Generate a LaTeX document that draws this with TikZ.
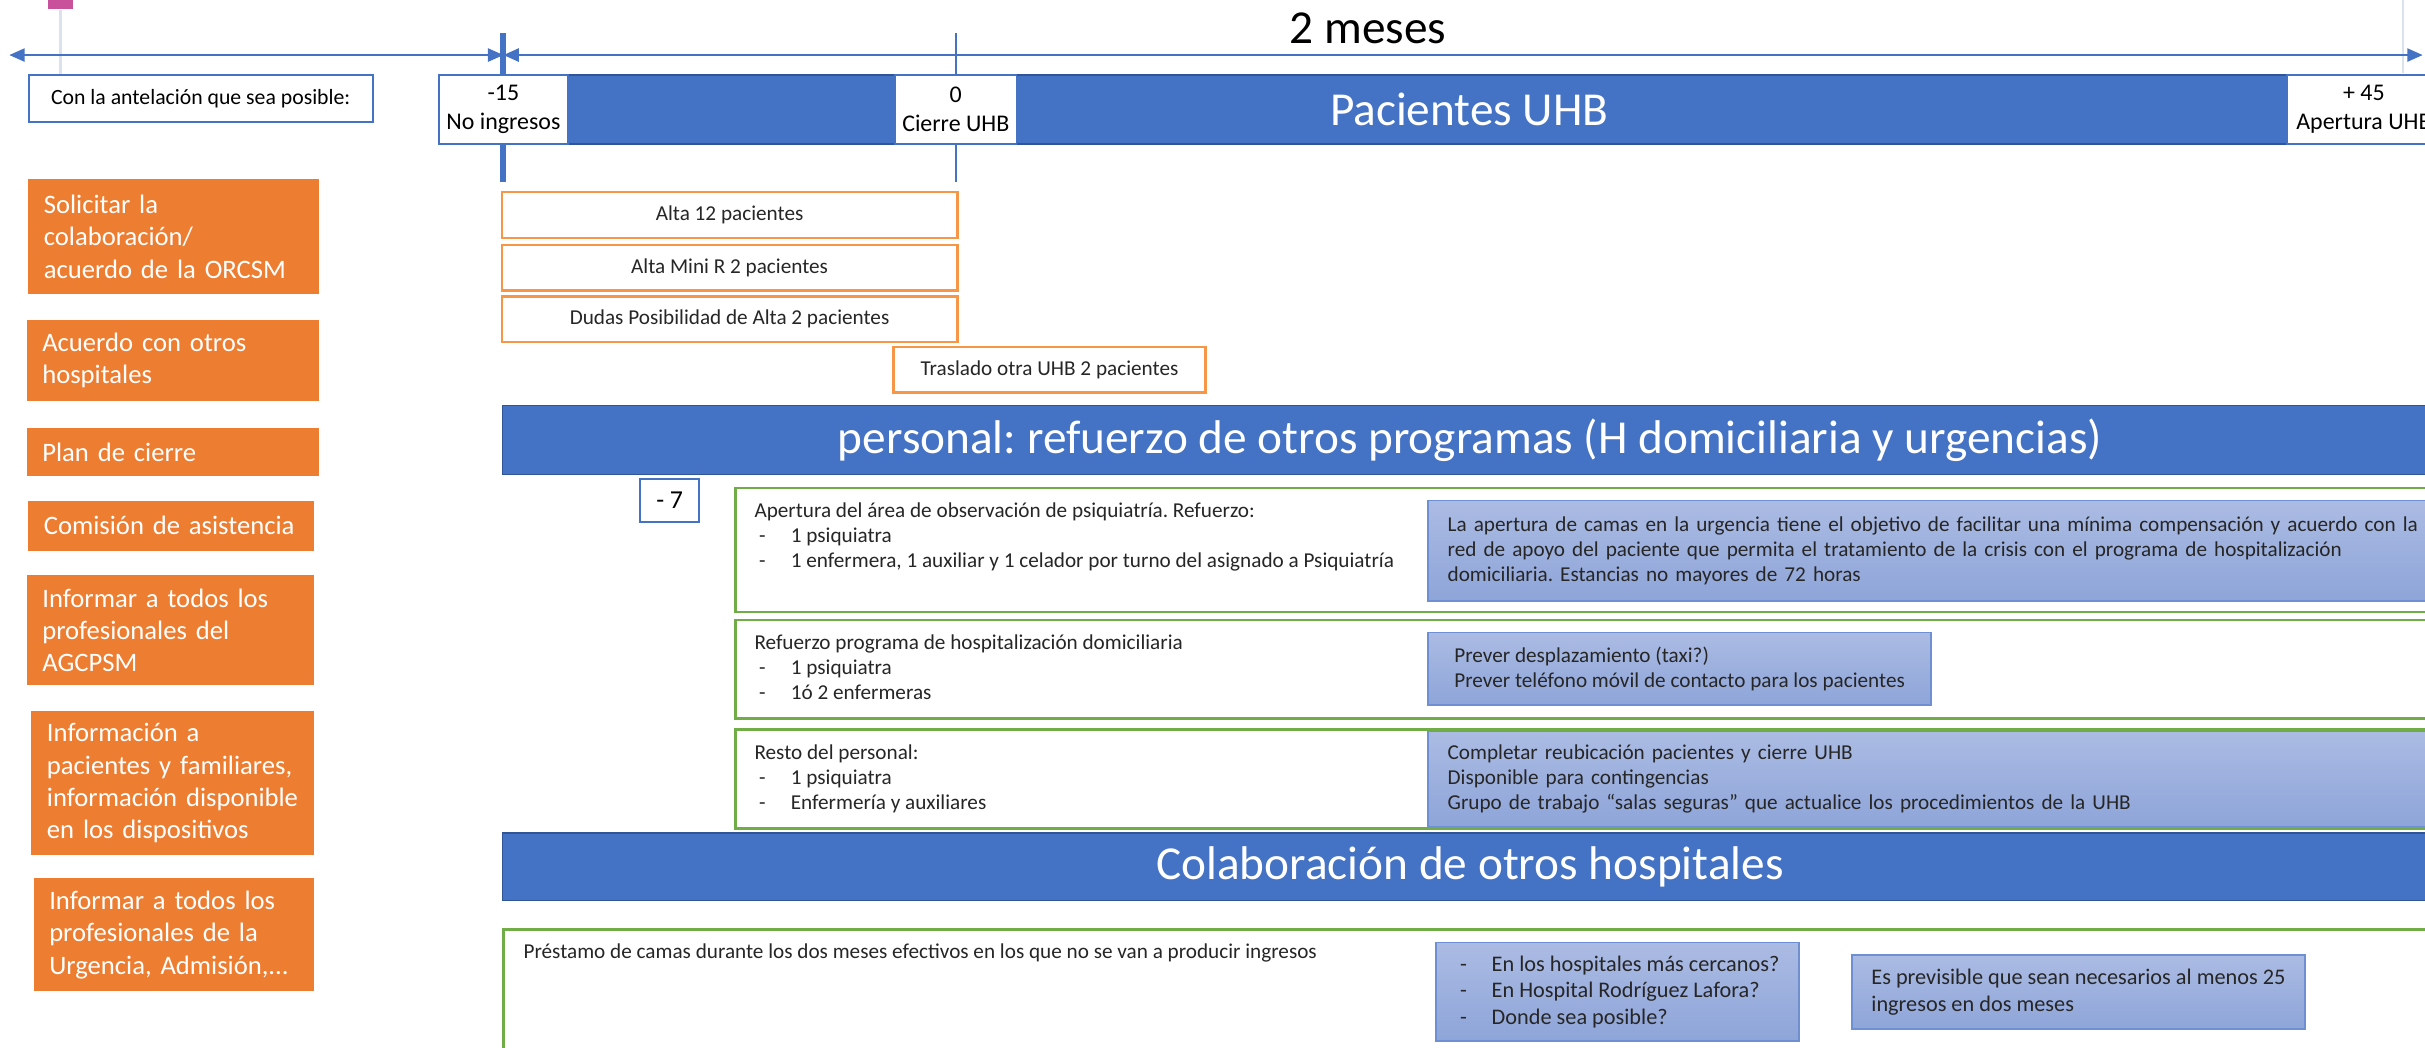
\documentclass[tikz,border=0pt]{standalone}
\usepackage{fontspec}
\setmainfont{Carlito}
\frenchspacing
\usetikzlibrary{positioning, arrows.meta, calc}
\definecolor{accblue}{HTML}{4472C4}
\definecolor{accedge}{HTML}{2F5597}
\definecolor{accorange}{HTML}{ED7D31}
\definecolor{orangeline}{HTML}{F79646}
\definecolor{accgreen}{HTML}{70AD47}
\definecolor{notetop}{HTML}{ABBBE3}
\definecolor{notebottom}{HTML}{8EA5D9}
\definecolor{noteedge}{HTML}{6F8FD3}
\definecolor{pinkmark}{HTML}{C9509A}
\definecolor{faintline}{HTML}{DCE2EC}
\definecolor{txtdark}{HTML}{262626}
\newcommand{\listdash}{\makebox[0.47cm][l]{\hspace{0.06cm}-}}

\begin{document}
\begin{tikzpicture}[
    smallfont/.style={font=\fontsize{7.8}{9.3}\selectfont},
    bigfont/.style={font=\fontsize{17.4}{21}\selectfont},
    markbox/.style={draw=accblue, fill=white, line width=0.7pt, align=center, inner sep=0pt,
                    font=\fontsize{8.8}{10.7}\selectfont},
    taskbox/.style={fill=accorange, text=white, align=left, text width=3.3cm, inner xsep=0.2cm,
                    inner ysep=0pt, anchor=west, font=\fontsize{9.8}{11.9}\selectfont},
    altabox/.style={draw=orangeline, fill=white, line width=0.9pt, smallfont, text=txtdark,
                    inner sep=0pt, minimum width=5.89cm, minimum height=0.59cm},
    banner/.style={draw=accedge, fill=accblue, text=white, line width=0.5pt, bigfont, inner sep=0pt,
                   minimum width=25.03cm, minimum height=0.89cm},
    staffbox/.style={draw=accgreen, fill=white, line width=1pt, inner sep=0pt, anchor=north west},
    notebox/.style={draw=noteedge, top color=notetop, bottom color=notebottom, line width=0.6pt,
                    text=txtdark, smallfont, align=left, anchor=west, inner xsep=0.25cm, inner ysep=0pt},
    itemtext/.style={smallfont, text=txtdark, align=left, anchor=north west, inner sep=0pt},
    timeline/.style={draw=accblue, line width=0.8pt, >={Triangle[length=2mm, width=1.7mm]}}
  ]
    \useasboundingbox (0,0) rectangle (31.36,-13.54);
    \clip (0,0) rectangle (31.36,-13.54);

    \node[fill=pinkmark, minimum width=0.32cm, minimum height=0.3cm, inner sep=0pt] (m) at (0.78,0.03) {};
    \node[markbox, minimum width=4.45cm, minimum height=0.6cm, font=\fontsize{8}{9.6}\selectfont] (a) at (2.596,-1.272) {Con la antelación que sea posible:};
    \draw[faintline, line width=1pt] (m.south) -- (m.south |- a.north);
    \coordinate (eu) at (31.08,0);
    \coordinate (ed) at (31.08,-0.94);
    \draw[faintline, line width=0.8pt] (eu) -- (ed);

    \node[bigfont, anchor=base] (meses) at (17.69,-0.56) {2 meses};
    \coordinate (tl) at (0.12,-0.712);
    \coordinate (tm) at (6.51,-0.712);
    \coordinate (tr) at (31.33,-0.712);
    \draw[timeline, <->] (tl) -- (tm);
    \draw[timeline, <->] (tm) -- (tr);

    \coordinate (k15) at (6.51,-0.43);
    \coordinate (k15e) at (6.51,-2.35);
    \coordinate (k0) at (12.36,-0.43);
    \coordinate (k0e) at (12.36,-2.35);
    \draw[accblue, line width=2.2pt] (k15) -- (k15e);
    \draw[accblue, line width=0.6pt] (k0) -- (k0e);

    \node[fill=accblue, draw=accedge, line width=0.5pt, minimum width=26.64cm, minimum height=0.89cm,
          inner sep=0pt, text=white, bigfont, text depth=0pt] (uhb) at (19.0,-1.415) {Pacientes UHB};
    \node[markbox, minimum width=1.66cm, minimum height=0.89cm] (n15) at (6.51,-1.415) {-15\\No ingresos};
    \node[markbox, minimum width=1.57cm, minimum height=0.89cm] (n0) at (12.36,-1.415) {0\\Cierre UHB};
    \node[markbox, minimum width=1.98cm, minimum height=0.89cm] (n45) at (30.57,-1.415) {+ 45\\Apertura UHB};

    \node[taskbox, minimum height=1.48cm, text width=3.36cm] (s) at (0.36,-3.06) {Solicitar la\\colaboración/\\acuerdo de la ORCSM};
    \node[taskbox, minimum height=1.04cm, text width=3.38cm] (h) at (0.34,-4.66) {Acuerdo con otros\\hospitales};
    \node[taskbox, minimum height=0.62cm, text width=3.38cm] (p) at (0.34,-5.85) {Plan de cierre};
    \node[taskbox, minimum height=0.64cm] (c) at (0.36,-6.80) {Comisión de asistencia};
    \node[taskbox, minimum height=1.42cm, text width=3.32cm] (i) at (0.34,-8.15) {Informar a todos los\\profesionales del\\AGCPSM};
    \node[taskbox, minimum height=1.86cm, text width=3.26cm] (f) at (0.40,-10.13) {Información a\\pacientes y familiares,\\información disponible\\en los dispositivos};
    \node[taskbox, minimum height=1.46cm, text width=3.23cm] (u) at (0.43,-12.09) {Informar a todos los\\profesionales de la\\Urgencia, Admisión,...};

    \node[altabox] (a12) at (9.435,-2.78) {Alta 12 pacientes};
    \node[altabox, below=0.06cm of a12] (amr) {Alta Mini R 2 pacientes};
    \node[altabox, below=0.045cm of amr] (dp) {Dudas Posibilidad de Alta 2 pacientes};
    \node[altabox, minimum width=4.04cm] (tr2) at (13.572,-4.78) {Traslado otra UHB 2 pacientes};

    \node[banner] (pers) at (19.01,-5.689) {personal: refuerzo de otros programas (H domiciliaria y urgencias)};
    \node[markbox, minimum width=0.76cm, minimum height=0.55cm, font=\fontsize{9.5}{11}\selectfont] (d7) at (8.66,-6.475) {- 7};

    \node[staffbox, minimum width=22.6cm, minimum height=1.604cm] (g1) at (9.49,-6.294) {};
    \node[staffbox, minimum width=22.6cm, minimum height=1.276cm] (g2) at (9.49,-8.0) {};
    \node[staffbox, minimum width=22.6cm, minimum height=1.274cm] (g3) at (9.49,-9.42) {};
    \node[itemtext] (g1t) at ([shift={(0.26,-0.2)}]g1.north west) {Apertura del área de observación de psiquiatría. Refuerzo:\\\listdash 1 psiquiatra\\\listdash 1 enfermera, 1 auxiliar y 1 celador por turno del asignado a Psiquiatría};
    \node[itemtext] (g2t) at ([shift={(0.26,-0.2)}]g2.north west) {Refuerzo programa de hospitalización domiciliaria\\\listdash 1 psiquiatra\\\listdash 1ó 2 enfermeras};
    \node[itemtext] (g3t) at ([shift={(0.26,-0.2)}]g3.north west) {Resto del personal:\\\listdash 1 psiquiatra\\\listdash Enfermería y auxiliares};

    \node[notebox, text width=13cm, minimum height=1.294cm] (b1) at (18.46,-7.121) {La apertura de camas en la urgencia tiene el objetivo de facilitar una mínima compensación y acuerdo con la\\red de apoyo del paciente que permita el tratamiento de la crisis con el programa de hospitalización\\domiciliaria. Estancias no mayores de 72 horas};
    \node[notebox, minimum width=6.5cm, minimum height=0.94cm] (b2) at (18.46,-8.65) {Prever desplazamiento (taxi?)\\Prever teléfono móvil de contacto para los pacientes};
    \node[notebox, text width=13cm, minimum height=1.23cm] (b3) at (18.46,-10.075) {Completar reubicación pacientes y cierre UHB\\Disponible para contingencias\\Grupo de trabajo “salas seguras” que actualice los procedimientos de la UHB};

    \node[banner, minimum height=0.87cm] (col) at (19.01,-11.206) {Colaboración de otros hospitales};

    \node[staffbox, minimum width=26cm, minimum height=2cm] (g4) at (6.494,-12.0) {};
    \node[itemtext] (g4t) at ([shift={(0.27,-0.2)}]g4.north west) {Préstamo de camas durante los dos meses efectivos en los que no se van a producir ingresos};
    \node[notebox, minimum width=4.62cm, minimum height=1.27cm, font=\fontsize{8.2}{9.8}\selectfont] (ba) at (18.56,-12.825) {\listdash En los hospitales más cercanos?\\\listdash En Hospital Rodríguez Lafora?\\\listdash Donde sea posible?};
    \node[notebox, minimum width=5.74cm, minimum height=0.96cm, font=\fontsize{8.2}{9.8}\selectfont] (bb) at (23.94,-12.83) {Es previsible que sean necesarios al menos 25\\ingresos en dos meses};
  \end{tikzpicture}
\end{document}
